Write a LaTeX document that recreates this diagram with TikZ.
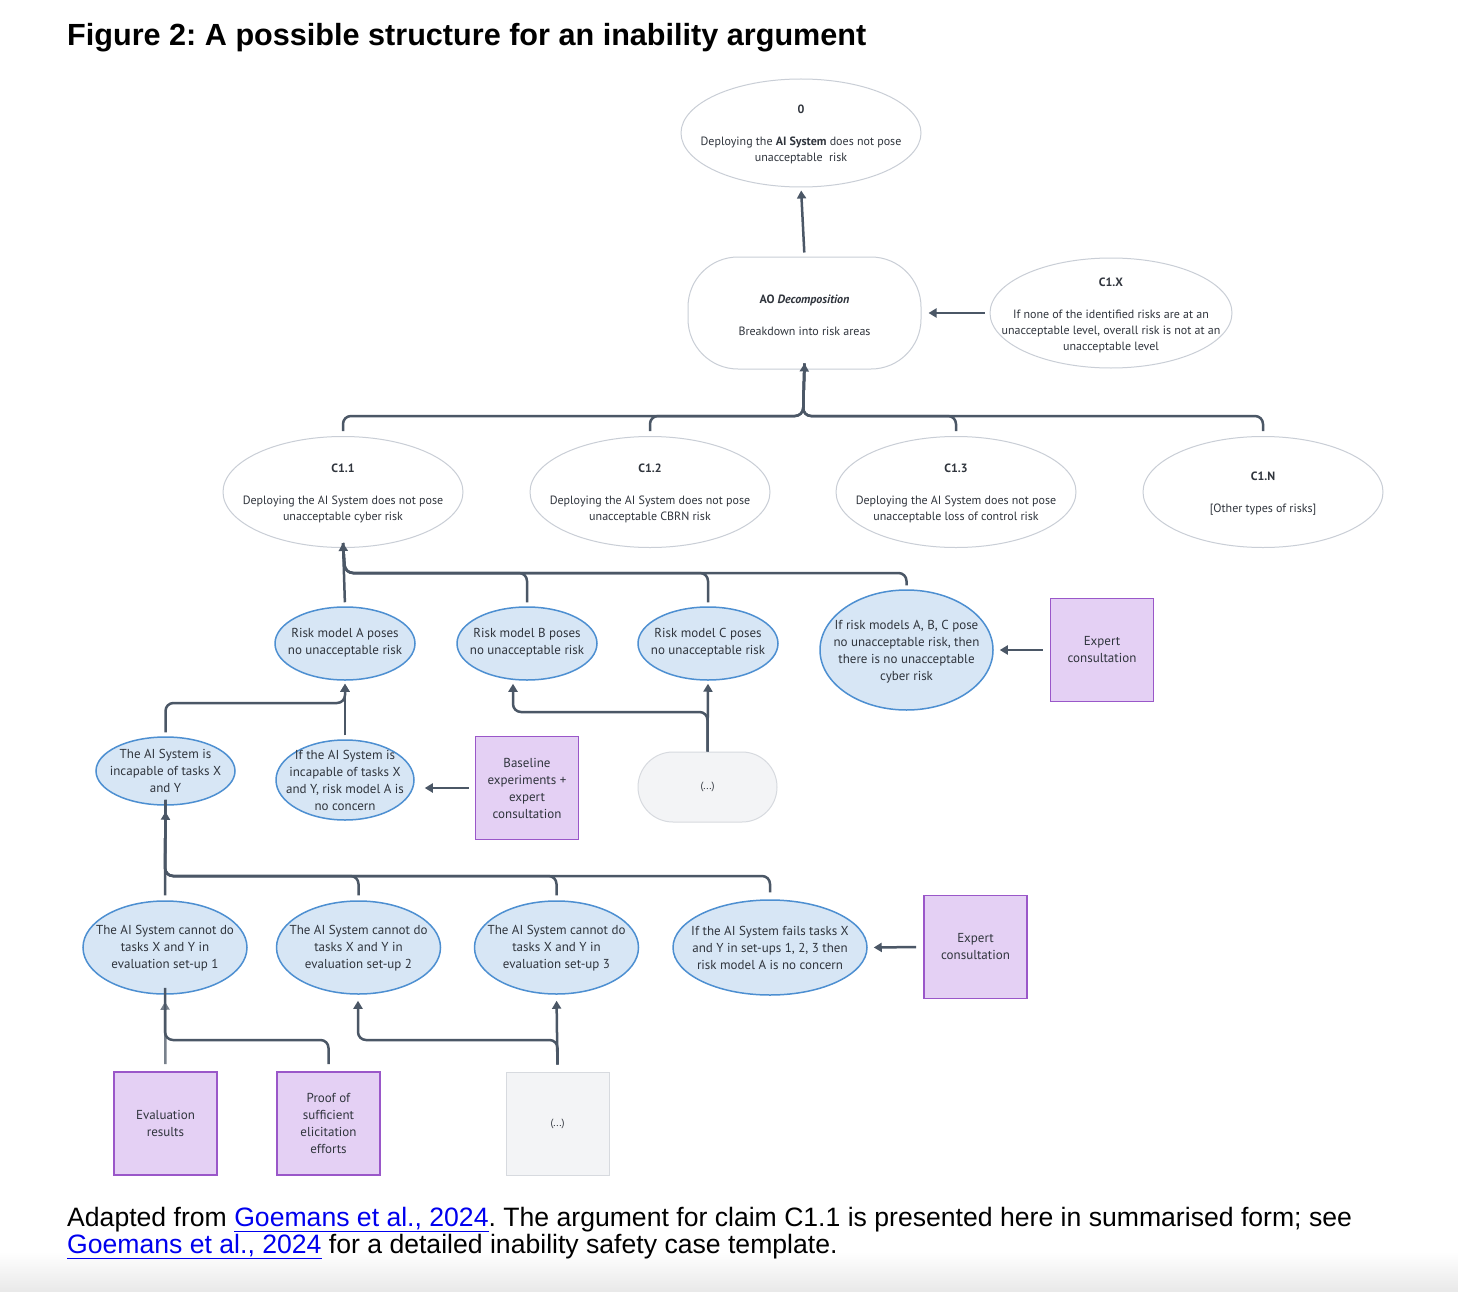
\documentclass[tikz,border=0pt]{standalone}
\usepackage{fontspec}
\setmainfont{Liberation Sans}
\newfontfamily\dfont{PT Sans}
\usetikzlibrary{shapes.geometric,arrows.meta}
\definecolor{conncol}{HTML}{4B5766}
\definecolor{txtcol}{HTML}{30353D}
\definecolor{wborder}{HTML}{C9CED6}
\definecolor{bfill}{HTML}{D7E6F5}
\definecolor{bborder}{HTML}{4D8FD1}
\definecolor{pfill}{HTML}{E4D0F4}
\definecolor{pborder}{HTML}{9A57C9}
\definecolor{gfill}{HTML}{F3F4F6}
\definecolor{gborder}{HTML}{D7DADF}
\definecolor{linkblue}{HTML}{0000EE}
\frenchspacing
\begin{document}
\frenchspacing
\begin{tikzpicture}[x=1pt,y=-1pt,
 wellipse/.style={ellipse, draw=wborder, line width=1pt, fill=white, inner sep=0pt},
 bellipse/.style={ellipse, draw=bborder, line width=1.5pt, fill=bfill, inner sep=0pt},
 stadium/.style={rectangle, draw=wborder, line width=1pt, fill=white, inner sep=0pt},
 wtxt/.style={font=\dfont\fontsize{12}{16}\selectfont, text=txtcol, align=center, inner sep=0pt},
 btxt/.style={font=\dfont\fontsize{13}{17}\selectfont, text=txtcol, align=center, inner sep=0pt},
 pbox/.style={rectangle, draw=pborder, line width=1.8pt, fill=pfill, minimum width=103pt, minimum height=103pt, inner sep=0pt, font=\dfont\fontsize{13}{17}\selectfont, text=txtcol, align=center},
 gbox/.style={pbox, draw=gborder, fill=gfill, line width=1pt},
 conn/.style={draw=conncol, line width=2.5pt, rounded corners=8pt},
 arr/.style={conn, -{Triangle[length=8pt,width=9pt]}},
]
\useasboundingbox (0,0) rectangle (1458,1292);
\fill[white] (0,0) rectangle (1458,1292);
\shade[top color=white, bottom color=black!9] (0,1252) rectangle (1458,1292);

% title
\node[anchor=base west, inner sep=0pt, font=\fontsize{30.6}{36}\selectfont\bfseries] (title) at (67,46) {Figure 2: A possible structure for an inability argument};

% top
\node[wellipse, minimum width=240pt, minimum height=108pt] (o) at (801,133) {};
\node[wtxt] (ot) at (801,134.5) {\textbf{0}\\[16pt]Deploying the \textbf{AI System} does not pose\\unacceptable\ \ risk};

\node[stadium, rounded corners=50pt, minimum width=233pt, minimum height=112pt] (ao) at (804.5,313) {};
\node[wtxt] (aot) at (804.5,315.5) {\textbf{AO \textit{Decomposition}}\\[16pt]Breakdown into risk areas};

\node[wellipse, minimum width=242pt, minimum height=110pt] (c1x) at (1111,313) {};
\node[wtxt] (c1xt) at (1111,315.5) {\textbf{C1.X}\\[16pt]If none of the identified risks are at an\\unacceptable level, overall risk is not at an\\unacceptable level};

% C1 row
\node[wellipse, minimum width=240pt, minimum height=111pt] (c11) at (343,492) {};
\node[wtxt] (c11t) at (343,493.5) {\textbf{C1.1}\\[16pt]Deploying the AI System does not pose\\unacceptable cyber risk};
\node[wellipse, minimum width=240pt, minimum height=111pt] (c12) at (650,492) {};
\node[wtxt] (c12t) at (650,493.5) {\textbf{C1.2}\\[16pt]Deploying the AI System does not pose\\unacceptable CBRN risk};
\node[wellipse, minimum width=240pt, minimum height=111pt] (c13) at (956,492) {};
\node[wtxt] (c13t) at (956,493.5) {\textbf{C1.3}\\[16pt]Deploying the AI System does not pose\\unacceptable loss of control risk};
\node[wellipse, minimum width=240pt, minimum height=111pt] (c1n) at (1263,492) {};
\node[wtxt] (c1nt) at (1263,493.5) {\textbf{C1.N}\\[16pt]{[}Other types of risks{]}};

% risk models row
\node[bellipse, minimum width=140pt, minimum height=73pt] (ra) at (345,643.5) {};
\node[btxt] (rat) at (345,643) {Risk model A poses\\no unacceptable risk};
\node[bellipse, minimum width=140pt, minimum height=73pt] (rb) at (527,643.5) {};
\node[btxt] (rbt) at (527,643) {Risk model B poses\\no unacceptable risk};
\node[bellipse, minimum width=140pt, minimum height=73pt] (rc) at (708,643.5) {};
\node[btxt] (rct) at (708,643) {Risk model C poses\\no unacceptable risk};
\node[bellipse, minimum width=173pt, minimum height=120pt] (ifr) at (906.5,650) {};
\node[btxt] (ifrt) at (906.5,651.5) {If risk models A, B, C pose\\no unacceptable risk, then\\there is no unacceptable\\cyber risk};
\node[pbox] (exp1) at (1102,650) {Expert\\consultation};

% middle row
\node[bellipse, minimum width=139pt, minimum height=68pt] (inc) at (165.5,771) {};
\node[btxt] (inct) at (165.5,771) {The AI System is\\incapable of tasks X\\and Y};
\node[bellipse, minimum width=138pt, minimum height=80pt] (ifi) at (345,780) {};
\node[btxt] (ifit) at (345,780) {If the AI System is\\incapable of tasks X\\and Y, risk model A is\\no concern};
\node[pbox] (base) at (527,788) {Baseline\\experiments +\\expert\\consultation};
\node[stadium, draw=gborder, fill=gfill, rounded corners=35pt, minimum width=139pt, minimum height=70pt, font=\dfont\fontsize{10.5}{12}\selectfont, text=txtcol] (dots) at (707.5,787) {(...)};

% evaluation row
\node[bellipse, minimum width=164pt, minimum height=93pt] (e1) at (165,947.5) {};
\node[btxt] (e1t) at (165,948) {The AI System cannot do\\tasks X and Y in\\evaluation set-up 1};
\node[bellipse, minimum width=164pt, minimum height=93pt] (e2) at (358.5,947.5) {};
\node[btxt] (e2t) at (358.5,948) {The AI System cannot do\\tasks X and Y in\\evaluation set-up 2};
\node[bellipse, minimum width=164pt, minimum height=93pt] (e3) at (556.5,947.5) {};
\node[btxt] (e3t) at (556.5,948) {The AI System cannot do\\tasks X and Y in\\evaluation set-up 3};
\node[bellipse, minimum width=194pt, minimum height=95pt] (fails) at (770,947.5) {};
\node[btxt] (failst) at (770,948) {If the AI System fails tasks X\\and Y in set-ups 1, 2, 3 then\\risk model A is no concern};
\node[pbox] (exp2) at (975.5,947) {Expert\\consultation};

% evidence row
\node[pbox] (eval) at (165.5,1123.5) {Evaluation\\results};
\node[pbox] (proof) at (328.5,1123.5) {Proof of\\sufficient\\elicitation\\efforts};
\node[gbox, font=\dfont\fontsize{10.5}{12}\selectfont] (gdots) at (557.5,1123.5) {(...)};

% connectors: top
\draw[arr, shorten <=4pt, shorten >=3pt] (ao.north) -- (o.south);
\draw[arr, shorten <=5pt, shorten >=7pt] (c1x.west) -- (ao.east);
\draw[conn, shorten <=5pt] (c11.north) |- (803,416) -- ([yshift=6pt]ao.south);
\draw[conn, shorten <=5pt] (c12.north) |- (803,416) -- ([yshift=6pt]ao.south);
\draw[conn, shorten <=5pt] (c13.north) |- (803,416) -- ([yshift=6pt]ao.south);
\draw[arr, shorten <=5pt] (c1n.north) |- (803,416) -- ([yshift=6pt]ao.south);

% risk models -> C1.1
\draw[arr, shorten <=4pt] (ra.north) -- ([yshift=5pt]c11.south);
\draw[conn, shorten <=4pt] (rb.north) |- (345,573) -- ([yshift=5pt]c11.south);
\draw[conn, shorten <=4pt] (rc.north) |- (345,573) -- ([yshift=5pt]c11.south);
\draw[conn, shorten <=4pt] (ifr.north) |- (345,573) -- ([yshift=5pt]c11.south);
\draw[arr, shorten <=7pt, shorten >=6pt] (exp1.west) -- (ifr.east);

% middle -> risk model A
\draw[arr, shorten <=4pt, shorten >=3pt] (ifi.north) -- (ra.south);
\draw[arr, shorten <=4pt, shorten >=3pt] (inc.north) |- (345,703) -- (ra.south);
\draw[arr, shorten <=6pt, shorten >=10pt] (base.west) -- (base.west -| ifi.east);
\draw[arr, shorten >=3pt] (dots.north) -- (rc.south);
\draw[arr, shorten >=3pt] (dots.north) |- (513,712) -- ([xshift=-14pt]rb.south);

% evaluation -> incapable
\draw[arr, shorten <=5pt, shorten >=6pt] (e1.north) -- (inc.south);
\draw[conn, shorten <=5pt] (e2.north) |- (165,876) -- ([yshift=6pt]inc.south);
\draw[conn, shorten <=5pt] (e3.north) |- (165,876) -- ([yshift=6pt]inc.south);
\draw[conn, shorten <=7pt] (fails.north) |- (165,876) -- ([yshift=6pt]inc.south);
\draw[arr, shorten <=7pt, shorten >=6pt] (exp2.west) -- (fails.east);

% evidence -> evaluations
\draw[arr, draw=conncol!75, shorten <=7pt, shorten >=7pt] (eval.north) -- (e1.south);
\draw[conn, shorten <=7pt] (proof.north) |- (165,1040) -- ([yshift=7pt]e1.south);
\draw[arr, shorten <=7pt, shorten >=6pt] (gdots.north) -- (e3.south);
\draw[arr, shorten <=7pt, shorten >=6pt] (gdots.north) |- (358,1040) -- ([xshift=-0.5pt]e2.south);

% caption
\node[anchor=base west, inner sep=0pt, font=\fontsize{26.6}{30}\selectfont] (cap1) at (67,1226) {Adapted from \textcolor{linkblue}{\underline{Goemans et al., 2024}}. The argument for claim C1.1 is presented here in summarised form; see};
\node[anchor=base west, inner sep=0pt, font=\fontsize{26.6}{30}\selectfont] (cap2) at (67,1253) {\textcolor{linkblue}{\underline{Goemans et al., 2024}} for a detailed inability safety case template.};
\end{tikzpicture}
\end{document}
